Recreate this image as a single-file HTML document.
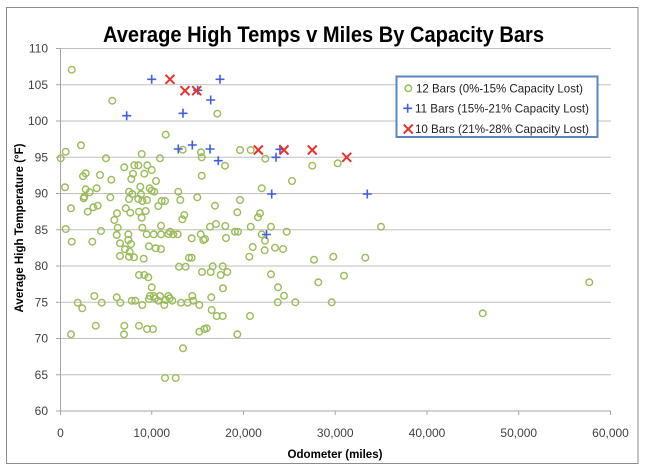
<!DOCTYPE html>
<html><head><meta charset="utf-8"><style>
html,body{margin:0;padding:0;background:#fff;}
svg{display:block;}
text{font-family:"Liberation Sans",sans-serif;}
</style></head><body>
<svg width="646" height="469" viewBox="0 0 646 469" xmlns="http://www.w3.org/2000/svg">
<rect x="0" y="0" width="646" height="469" fill="#fff"/>
<rect x="6.5" y="7.5" width="631.5" height="456" fill="#fff" stroke="#8c8c8c" stroke-width="1"/>
<text x="323.5" y="42" font-size="22" font-weight="bold" text-anchor="middle" textLength="441" lengthAdjust="spacingAndGlyphs" fill="#000">Average High Temps v Miles By Capacity Bars</text>
<g stroke="#bfbfbf" stroke-width="1">
<line x1="60" y1="48.5" x2="611" y2="48.5"/>
<line x1="60" y1="84.75" x2="611" y2="84.75"/>
<line x1="60" y1="121" x2="611" y2="121"/>
<line x1="60" y1="157.25" x2="611" y2="157.25"/>
<line x1="60" y1="193.5" x2="611" y2="193.5"/>
<line x1="60" y1="229.75" x2="611" y2="229.75"/>
<line x1="60" y1="266" x2="611" y2="266"/>
<line x1="60" y1="302.25" x2="611" y2="302.25"/>
<line x1="60" y1="338.5" x2="611" y2="338.5"/>
<line x1="60" y1="374.75" x2="611" y2="374.75"/>
</g>
<g stroke="#a6a6a6" stroke-width="1">
<line x1="60.5" y1="48" x2="60.5" y2="411"/>
<line x1="60" y1="411" x2="611" y2="411"/>
<line x1="56" y1="48.5" x2="60" y2="48.5"/><line x1="56" y1="84.75" x2="60" y2="84.75"/><line x1="56" y1="121" x2="60" y2="121"/><line x1="56" y1="157.25" x2="60" y2="157.25"/><line x1="56" y1="193.5" x2="60" y2="193.5"/><line x1="56" y1="229.75" x2="60" y2="229.75"/><line x1="56" y1="266" x2="60" y2="266"/><line x1="56" y1="302.25" x2="60" y2="302.25"/><line x1="56" y1="338.5" x2="60" y2="338.5"/><line x1="56" y1="374.75" x2="60" y2="374.75"/><line x1="56" y1="411" x2="60" y2="411"/>
<line x1="60.5" y1="411" x2="60.5" y2="415"/><line x1="151.75" y1="411" x2="151.75" y2="415"/><line x1="243.5" y1="411" x2="243.5" y2="415"/><line x1="335.25" y1="411" x2="335.25" y2="415"/><line x1="427" y1="411" x2="427" y2="415"/><line x1="518.75" y1="411" x2="518.75" y2="415"/><line x1="610.5" y1="411" x2="610.5" y2="415"/>
</g>
<g font-size="12" fill="#404040" text-anchor="end">
<text x="48" y="52.5">110</text><text x="48" y="88.75">105</text><text x="48" y="125">100</text><text x="48" y="161.25">95</text><text x="48" y="197.5">90</text><text x="48" y="233.75">85</text><text x="48" y="270">80</text><text x="48" y="306.25">75</text><text x="48" y="342.5">70</text><text x="48" y="378.75">65</text><text x="48" y="415">60</text>
</g>
<g font-size="12" fill="#404040" text-anchor="middle">
<text x="60.5" y="437">0</text><text x="151.75" y="437">10,000</text><text x="243.5" y="437">20,000</text><text x="335.25" y="437">30,000</text><text x="427" y="437">40,000</text><text x="518.75" y="437">50,000</text><text x="610.5" y="437">60,000</text>
</g>
<text x="335" y="458" font-size="12" font-weight="bold" text-anchor="middle" textLength="95" lengthAdjust="spacingAndGlyphs" fill="#000">Odometer (miles)</text>
<text transform="translate(23,228) rotate(-90)" x="0" y="0" font-size="12" font-weight="bold" text-anchor="middle" textLength="169" lengthAdjust="spacingAndGlyphs" fill="#000">Average High Temperature (°F)</text>

<g fill="none" stroke="#9bbb59" stroke-width="1.4">
<circle cx="71.7" cy="69.7" r="3.3"/><circle cx="112.3" cy="100.7" r="3.3"/><circle cx="165.7" cy="134.7" r="3.3"/><circle cx="81" cy="145.3" r="3.3"/><circle cx="65.7" cy="151.7" r="3.3"/><circle cx="60.7" cy="158.3" r="3.3"/><circle cx="106" cy="158.3" r="3.3"/><circle cx="141.7" cy="154" r="3.3"/><circle cx="160" cy="158.3" r="3.3"/><circle cx="182.7" cy="149.7" r="3.3"/><circle cx="201" cy="152.3" r="3.3"/><circle cx="201.7" cy="157.3" r="3.3"/><circle cx="124.3" cy="167.3" r="3.3"/><circle cx="134.3" cy="165.3" r="3.3"/><circle cx="138.3" cy="165.3" r="3.3"/><circle cx="147.3" cy="165.3" r="3.3"/><circle cx="151.7" cy="170" r="3.3"/><circle cx="144.3" cy="173.7" r="3.3"/><circle cx="133" cy="173.7" r="3.3"/><circle cx="131.3" cy="179" r="3.3"/><circle cx="85.7" cy="173.3" r="3.3"/><circle cx="83" cy="176.3" r="3.3"/><circle cx="100" cy="175" r="3.3"/><circle cx="111.3" cy="179.7" r="3.3"/><circle cx="156" cy="181" r="3.3"/><circle cx="201.7" cy="175.7" r="3.3"/><circle cx="65" cy="187.3" r="3.3"/><circle cx="85.7" cy="189.3" r="3.3"/><circle cx="89.7" cy="192.3" r="3.3"/><circle cx="84.3" cy="196.7" r="3.3"/><circle cx="83.7" cy="198.3" r="3.3"/><circle cx="96.7" cy="188.3" r="3.3"/><circle cx="129" cy="191.7" r="3.3"/><circle cx="132.3" cy="194" r="3.3"/><circle cx="140.3" cy="186.7" r="3.3"/><circle cx="149.7" cy="188.3" r="3.3"/><circle cx="151.7" cy="190.7" r="3.3"/><circle cx="154.3" cy="191.7" r="3.3"/><circle cx="141" cy="194.3" r="3.3"/><circle cx="110.3" cy="197.3" r="3.3"/><circle cx="129" cy="199" r="3.3"/><circle cx="138.3" cy="199" r="3.3"/><circle cx="142.3" cy="201" r="3.3"/><circle cx="147" cy="200" r="3.3"/><circle cx="161.7" cy="201" r="3.3"/><circle cx="165" cy="201" r="3.3"/><circle cx="178.3" cy="191.7" r="3.3"/><circle cx="180.3" cy="200" r="3.3"/><circle cx="197.3" cy="197.3" r="3.3"/><circle cx="71" cy="208.3" r="3.3"/><circle cx="93.3" cy="207.3" r="3.3"/><circle cx="97.7" cy="205.7" r="3.3"/><circle cx="87.7" cy="211.7" r="3.3"/><circle cx="117" cy="213.3" r="3.3"/><circle cx="125.7" cy="208.3" r="3.3"/><circle cx="130.3" cy="212.7" r="3.3"/><circle cx="139" cy="211.7" r="3.3"/><circle cx="145.7" cy="211" r="3.3"/><circle cx="158.3" cy="206" r="3.3"/><circle cx="114.3" cy="220" r="3.3"/><circle cx="141.7" cy="217.7" r="3.3"/><circle cx="184.3" cy="215" r="3.3"/><circle cx="182.3" cy="219.3" r="3.3"/><circle cx="65.7" cy="229" r="3.3"/><circle cx="101" cy="231" r="3.3"/><circle cx="117.7" cy="227.7" r="3.3"/><circle cx="142.3" cy="227.7" r="3.3"/><circle cx="161" cy="225.7" r="3.3"/><circle cx="170" cy="231.7" r="3.3"/>
<circle cx="116.7" cy="235" r="3.3"/><circle cx="128.3" cy="234.3" r="3.3"/><circle cx="146.7" cy="234.3" r="3.3"/><circle cx="153.7" cy="234.3" r="3.3"/><circle cx="161" cy="234.3" r="3.3"/><circle cx="168.3" cy="234" r="3.3"/><circle cx="173.3" cy="234.3" r="3.3"/><circle cx="177.7" cy="234.3" r="3.3"/><circle cx="191.7" cy="238.3" r="3.3"/><circle cx="200.7" cy="234.3" r="3.3"/><circle cx="203.3" cy="240" r="3.3"/><circle cx="71.7" cy="241.7" r="3.3"/><circle cx="92.3" cy="241.7" r="3.3"/><circle cx="120" cy="243.3" r="3.3"/><circle cx="128.3" cy="240" r="3.3"/><circle cx="131" cy="244" r="3.3"/><circle cx="125" cy="249.3" r="3.3"/><circle cx="129.7" cy="251.7" r="3.3"/><circle cx="149" cy="246.3" r="3.3"/><circle cx="155.7" cy="248.3" r="3.3"/><circle cx="161" cy="249" r="3.3"/><circle cx="120" cy="256" r="3.3"/><circle cx="129" cy="256.7" r="3.3"/><circle cx="134" cy="257.3" r="3.3"/><circle cx="143.7" cy="258.7" r="3.3"/><circle cx="189" cy="257.7" r="3.3"/><circle cx="191.7" cy="257.7" r="3.3"/><circle cx="179" cy="266.7" r="3.3"/><circle cx="185.7" cy="266.7" r="3.3"/><circle cx="202" cy="272" r="3.3"/><circle cx="139" cy="275" r="3.3"/><circle cx="144.3" cy="275" r="3.3"/><circle cx="148.3" cy="277.3" r="3.3"/><circle cx="151.7" cy="287.3" r="3.3"/><circle cx="94.3" cy="296" r="3.3"/><circle cx="116.7" cy="297.3" r="3.3"/><circle cx="150" cy="296" r="3.3"/><circle cx="153.7" cy="296" r="3.3"/><circle cx="155" cy="298.3" r="3.3"/><circle cx="160" cy="296" r="3.3"/><circle cx="168.3" cy="296" r="3.3"/><circle cx="169.7" cy="298.3" r="3.3"/><circle cx="172.3" cy="300.7" r="3.3"/><circle cx="165.7" cy="300" r="3.3"/><circle cx="158.3" cy="300.7" r="3.3"/><circle cx="149" cy="299" r="3.3"/><circle cx="164.3" cy="305" r="3.3"/><circle cx="181" cy="302.7" r="3.3"/><circle cx="187.7" cy="302.7" r="3.3"/><circle cx="192.3" cy="296" r="3.3"/><circle cx="193.3" cy="300.7" r="3.3"/><circle cx="199.3" cy="305" r="3.3"/><circle cx="77.7" cy="302.7" r="3.3"/><circle cx="82.3" cy="308.3" r="3.3"/><circle cx="101.7" cy="302.7" r="3.3"/><circle cx="120.3" cy="302.7" r="3.3"/><circle cx="131.7" cy="300.7" r="3.3"/><circle cx="135.3" cy="300.7" r="3.3"/><circle cx="142.3" cy="305" r="3.3"/><circle cx="95.7" cy="325.7" r="3.3"/><circle cx="124.3" cy="325.7" r="3.3"/><circle cx="124" cy="334.3" r="3.3"/><circle cx="139" cy="325.7" r="3.3"/><circle cx="147" cy="329" r="3.3"/><circle cx="153" cy="329" r="3.3"/><circle cx="71" cy="334.3" r="3.3"/><circle cx="199.3" cy="331.7" r="3.3"/><circle cx="204.3" cy="329" r="3.3"/><circle cx="183" cy="348.3" r="3.3"/><circle cx="165" cy="378" r="3.3"/><circle cx="175.7" cy="378" r="3.3"/>
<circle cx="217.3" cy="113.7" r="3.3"/><circle cx="240" cy="150" r="3.3"/><circle cx="250.7" cy="150" r="3.3"/><circle cx="265.3" cy="158.7" r="3.3"/><circle cx="225" cy="165.7" r="3.3"/><circle cx="292" cy="181" r="3.3"/><circle cx="312.3" cy="165.7" r="3.3"/><circle cx="337.7" cy="163.3" r="3.3"/><circle cx="261.7" cy="188.3" r="3.3"/><circle cx="240" cy="200" r="3.3"/><circle cx="215" cy="205.7" r="3.3"/><circle cx="237.3" cy="212.3" r="3.3"/><circle cx="260" cy="213.3" r="3.3"/><circle cx="258" cy="217.3" r="3.3"/><circle cx="216" cy="224" r="3.3"/><circle cx="210" cy="226.7" r="3.3"/><circle cx="225.3" cy="226" r="3.3"/><circle cx="250.7" cy="226.7" r="3.3"/><circle cx="271" cy="226.7" r="3.3"/><circle cx="235" cy="231.7" r="3.3"/><circle cx="238" cy="231.7" r="3.3"/><circle cx="286.7" cy="231.7" r="3.3"/><circle cx="261.7" cy="234.3" r="3.3"/>
<circle cx="205" cy="239" r="3.3"/><circle cx="226" cy="238" r="3.3"/><circle cx="265" cy="240.7" r="3.3"/><circle cx="252.7" cy="247" r="3.3"/><circle cx="264.7" cy="250.3" r="3.3"/><circle cx="275" cy="247.7" r="3.3"/><circle cx="283" cy="249" r="3.3"/><circle cx="249.3" cy="256.7" r="3.3"/><circle cx="314" cy="259.7" r="3.3"/><circle cx="333.3" cy="256.7" r="3.3"/><circle cx="210.7" cy="272" r="3.3"/><circle cx="212.7" cy="266.3" r="3.3"/><circle cx="222.7" cy="266.3" r="3.3"/><circle cx="227.3" cy="272" r="3.3"/><circle cx="220.7" cy="275" r="3.3"/><circle cx="271" cy="274.3" r="3.3"/><circle cx="318.3" cy="282.3" r="3.3"/><circle cx="344" cy="275.7" r="3.3"/><circle cx="223" cy="288.3" r="3.3"/><circle cx="278" cy="287.3" r="3.3"/><circle cx="284" cy="295.7" r="3.3"/><circle cx="211.3" cy="297.3" r="3.3"/><circle cx="277.7" cy="302.3" r="3.3"/><circle cx="295.3" cy="302.3" r="3.3"/><circle cx="331.7" cy="302.3" r="3.3"/><circle cx="211.7" cy="310" r="3.3"/><circle cx="216.7" cy="316" r="3.3"/><circle cx="222.7" cy="316" r="3.3"/><circle cx="250" cy="316" r="3.3"/><circle cx="206.7" cy="328.3" r="3.3"/><circle cx="237.3" cy="334.3" r="3.3"/>
<circle cx="381" cy="226.7" r="3.3"/><circle cx="365.3" cy="257.7" r="3.3"/><circle cx="589.3" cy="282.3" r="3.3"/><circle cx="482.7" cy="313.3" r="3.3"/>
</g>

<g stroke="#3f5fe0" stroke-width="1.6" fill="none">
<path d="M147.2 79.3h9M151.7 74.8v9"/>
<path d="M122.2 115.7h9M126.7 111.2v9"/>
<path d="M178.5 113.3h9M183 108.8v9"/>
<path d="M173.8 149h9M178.3 144.5v9"/>
<path d="M187.8 145h9M192.3 140.5v9"/>
<path d="M193.2 90.3h9M197.7 85.8v9"/>
<path d="M215.5 79.3h9M220 74.8v9"/>
<path d="M206.2 100h9M210.7 95.5v9"/>
<path d="M205.5 149h9M210 144.5v9"/>
<path d="M213.8 160.7h9M218.3 156.2v9"/>
<path d="M271.5 157.3h9M276 152.8v9"/>
<path d="M275.5 149.3h9M280 144.8v9"/>
<path d="M267.2 194h9M271.7 189.5v9"/>
<path d="M262 234.5h9M266.5 230v9"/>
<path d="M362.8 194h9M367.3 189.5v9"/>
</g>

<g stroke="#e5342e" stroke-width="2" fill="none">
<path d="M165.5 74.8l9 9M174.5 74.8l-9 9"/>
<path d="M180.5 86.2l9 9M189.5 86.2l-9 9"/>
<path d="M192.2 86.2l9 9M201.2 86.2l-9 9"/>
<path d="M253.8 145.5l9 9M262.8 145.5l-9 9"/>
<path d="M279.5 145.5l9 9M288.5 145.5l-9 9"/>
<path d="M307.8 145.5l9 9M316.8 145.5l-9 9"/>
<path d="M342.2 152.8l9 9M351.2 152.8l-9 9"/>
</g>

<rect x="396.5" y="76.5" width="201" height="60.5" fill="#fff" stroke="#5a84c2" stroke-width="2"/>
<circle cx="408.3" cy="88.3" r="3.3" fill="none" stroke="#9bbb59" stroke-width="1.4"/>
<path d="M403.2 108.3h9M407.7 103.8v9" stroke="#3f5fe0" stroke-width="1.6"/>
<path d="M403.8 124.5l9 9M412.8 124.5l-9 9" stroke="#e5342e" stroke-width="2"/>
<g font-size="12" fill="#222">
<text x="416" y="92.5" textLength="167" lengthAdjust="spacingAndGlyphs">12 Bars (0%-15% Capacity Lost)</text>
<text x="415" y="112.5" textLength="174" lengthAdjust="spacingAndGlyphs">11 Bars (15%-21% Capacity Lost)</text>
<text x="415" y="133" textLength="174" lengthAdjust="spacingAndGlyphs">10 Bars (21%-28% Capacity Lost)</text>
</g>
</svg>
</body></html>
